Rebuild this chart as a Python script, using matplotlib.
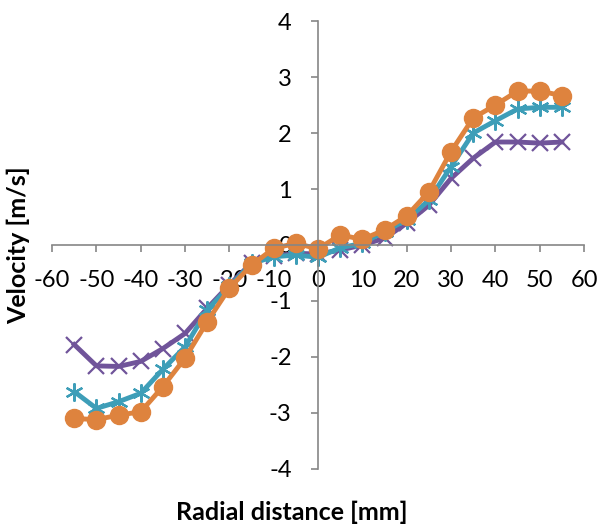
import matplotlib.pyplot as plt

plt.rcParams['font.family'] = ['Lato', 'DejaVu Sans']
plt.rcParams['axes.unicode_minus'] = False

# radial positions [mm]
radial = [-55, -50, -45, -40, -35, -30, -25, -20, -15, -10, -5, 0,
          5, 10, 15, 20, 25, 30, 35, 40, 45, 50, 55]

# velocity profiles [m/s]
vel_purple = [-1.78, -2.16, -2.17, -2.08, -1.85, -1.58, -1.13, -0.71, -0.32, -0.20, -0.15, -0.16,
              -0.09, 0.00, 0.12, 0.39, 0.71, 1.19, 1.55, 1.84, 1.84, 1.82, 1.84]
vel_teal = [-2.62, -2.92, -2.80, -2.65, -2.22, -1.82, -1.16, -0.74, -0.33, -0.21, -0.18, -0.22,
            -0.05, 0.03, 0.24, 0.45, 0.80, 1.40, 2.00, 2.22, 2.43, 2.46, 2.46]
vel_orange = [-3.10, -3.12, -3.04, -2.98, -2.53, -2.02, -1.37, -0.77, -0.36, -0.06, 0.03, -0.07,
              0.18, 0.10, 0.27, 0.52, 0.95, 1.67, 2.27, 2.50, 2.75, 2.75, 2.67]

fig = plt.figure(figsize=(5.99, 5.28), dpi=100)
ax = fig.add_axes([0.087, 0.112, 0.888, 0.848])

ax.plot(radial, vel_purple, color='#70549A', lw=3.5, marker='x', ms=11, mew=1.6)
ax.plot(radial, vel_teal, color='#3E9EB8', lw=3.5, marker=(6, 2, 0), ms=13, mew=1.6)
ax.plot(radial, vel_orange, color='#DE833E', lw=3.5, marker='o', ms=13)

ax.set_xlim(-60, 60)
ax.set_ylim(-4, 4)
ax.set_xticks(range(-60, 61, 10))
ax.set_yticks(range(-4, 5))

# axes crossing at the origin
ax.spines['left'].set_position(('data', 0))
ax.spines['bottom'].set_position(('data', 0))
ax.spines['right'].set_visible(False)
ax.spines['top'].set_visible(False)
for s in ('left', 'bottom'):
    ax.spines[s].set_color('#868686')
    ax.spines[s].set_linewidth(1.2)
ax.tick_params(colors='#868686', length=5, width=1.2, labelcolor='black', labelsize=17)
ax.tick_params(axis='x', pad=13)
ax.tick_params(axis='y', pad=14)

ax.text(-0.064, 0.5, 'Velocity [m/s]', transform=ax.transAxes, rotation=90,
        ha='center', va='center', fontsize=18, fontweight='bold')
ax.text(0.45, -0.098, 'Radial distance [mm]', transform=ax.transAxes,
        ha='center', va='center', fontsize=18, fontweight='bold')

fig.savefig('out.png', dpi=100)
